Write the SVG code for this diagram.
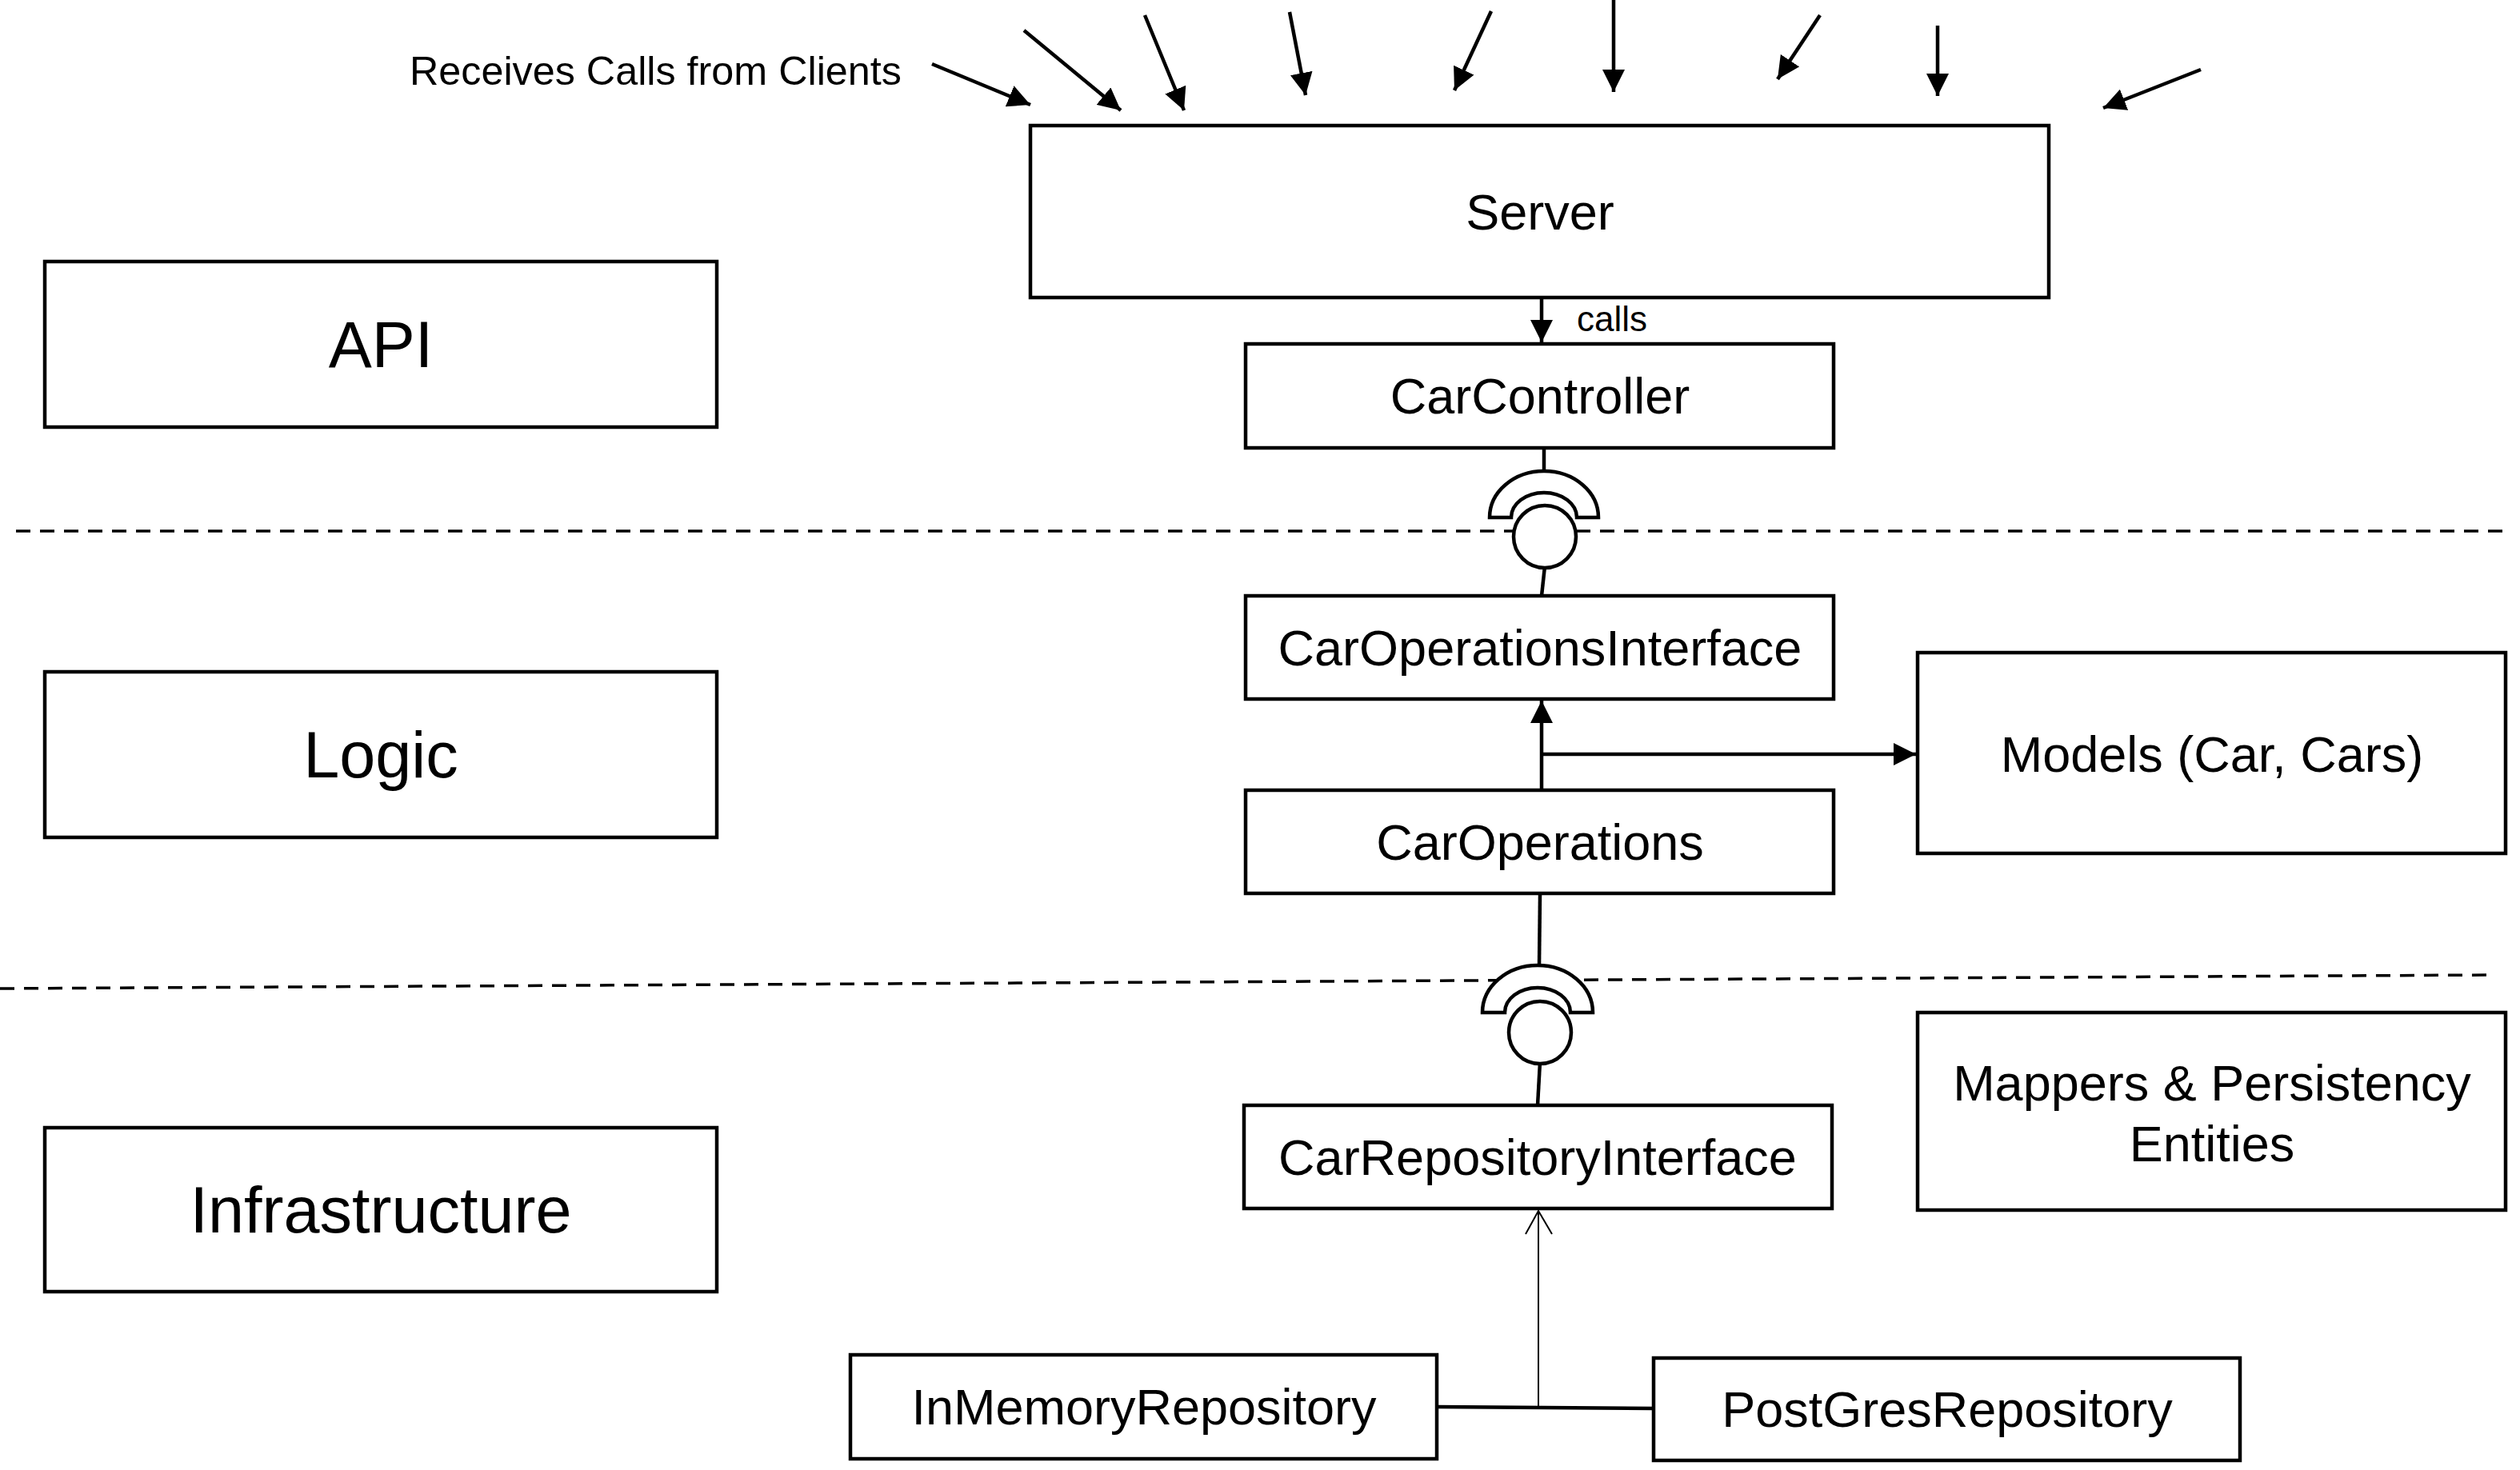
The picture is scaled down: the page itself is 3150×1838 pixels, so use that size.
<svg xmlns="http://www.w3.org/2000/svg" width="3150" height="1838" viewBox="0 0 3150 1838">
<style>
  .box { fill: #ffffff; stroke: #000000; stroke-width: 4.5; }
  .lbl { font-family: "Liberation Sans", Arial, sans-serif; font-size: 63px; fill: #000000; text-anchor: middle; }
  .layer { font-family: "Liberation Sans", Arial, sans-serif; font-size: 81px; fill: #000000; text-anchor: middle; }
  .small { font-family: "Liberation Sans", Arial, sans-serif; fill: #000000; }
  .ln { fill: none; stroke: #000000; stroke-width: 4.5; }
  .thin { fill: none; stroke: #000000; stroke-width: 2; }
  .dash { fill: none; stroke: #000000; stroke-width: 3.5; stroke-dasharray: 18 12; }
  .sym { fill: #ffffff; stroke: #000000; stroke-width: 4.5; }
</style>
<defs>
  <marker id="arr" markerUnits="userSpaceOnUse" markerWidth="28" markerHeight="28" viewBox="0 0 27 27" refX="27" refY="13.5" orient="auto">
    <path d="M0,0 L27,13.5 L0,27 Z" fill="#000000"/>
  </marker>
</defs>
<rect x="0" y="0" width="3150" height="1838" fill="#ffffff"/>

<g id="layer-lines">
  <line class="dash" x1="20" y1="664" x2="3134" y2="664"/>
  <line class="dash" x1="0" y1="1236" x2="3116" y2="1219"/>
</g>

<g id="client-calls">
  <text class="small" x="512" y="106" font-size="50.3">Receives Calls from Clients</text>
  <line class="ln" x1="1165" y1="80" x2="1288" y2="131" marker-end="url(#arr)"/>
  <line class="ln" x1="1280" y1="38" x2="1401" y2="138" marker-end="url(#arr)"/>
  <line class="ln" x1="1431" y1="19" x2="1480" y2="138" marker-end="url(#arr)"/>
  <line class="ln" x1="1612" y1="15" x2="1632" y2="119" marker-end="url(#arr)"/>
  <line class="ln" x1="1864" y1="14" x2="1818" y2="113" marker-end="url(#arr)"/>
  <line class="ln" x1="2017" y1="0" x2="2017" y2="115" marker-end="url(#arr)"/>
  <line class="ln" x1="2275" y1="19" x2="2222" y2="99" marker-end="url(#arr)"/>
  <line class="ln" x1="2422" y1="32" x2="2422" y2="120" marker-end="url(#arr)"/>
  <line class="ln" x1="2751" y1="87" x2="2629" y2="135" marker-end="url(#arr)"/>
</g>

<g id="connectors">
  <line class="ln" x1="1927" y1="374" x2="1927" y2="428" marker-end="url(#arr)"/>
  <text class="small" x="1971" y="414" font-size="44">calls</text>
  <line class="ln" x1="1930" y1="562" x2="1930" y2="590"/>
  <line class="ln" x1="1931" y1="708" x2="1927" y2="745"/>
  <line class="ln" x1="1927" y1="988" x2="1927" y2="876" marker-end="url(#arr)"/>
  <line class="ln" x1="1927" y1="943" x2="2395" y2="943" marker-end="url(#arr)"/>
  <line class="ln" x1="1925" y1="1119" x2="1924" y2="1208"/>
  <line class="ln" x1="1925" y1="1328" x2="1922" y2="1382"/>
  <line class="thin" x1="1923" y1="1760" x2="1923" y2="1514"/>
  <polyline class="thin" points="1907,1543 1923,1514 1940,1543"/>
  <line class="ln" x1="1796" y1="1759" x2="2067" y2="1761"/>
</g>

<g id="socket-api-logic">
  <path class="sym" d="M1862,647 A68,58 0 0 1 1998,647 L1971,647 A41,31 0 0 0 1889,647 Z"/>
  <circle class="sym" cx="1931" cy="671" r="39"/>
</g>
<g id="socket-logic-infra">
  <path class="sym" d="M1853,1266 A69,59 0 0 1 1991,1266 L1963,1266 A41,31 0 0 0 1881,1266 Z"/>
  <circle class="sym" cx="1925" cy="1291" r="39"/>
</g>

<g id="server">
  <rect class="box" x="1288" y="157" width="1273" height="215"/>
  <text class="lbl" x="1925" y="287">Server</text>
</g>
<g id="api">
  <rect class="box" x="56" y="327" width="840" height="207"/>
  <text class="layer" x="476" y="459">API</text>
</g>
<g id="car-controller">
  <rect class="box" x="1557" y="430" width="735" height="130"/>
  <text class="lbl" x="1925" y="517">CarController</text>
</g>
<g id="logic">
  <rect class="box" x="56" y="840" width="840" height="207"/>
  <text class="layer" x="476" y="972">Logic</text>
</g>
<g id="car-operations-interface">
  <rect class="box" x="1557" y="745" width="735" height="129"/>
  <text class="lbl" x="1925" y="832">CarOperationsInterface</text>
</g>
<g id="models">
  <rect class="box" x="2397" y="816" width="735" height="251"/>
  <text class="lbl" x="2765" y="965">Models (Car, Cars)</text>
</g>
<g id="car-operations">
  <rect class="box" x="1557" y="988" width="735" height="129"/>
  <text class="lbl" x="1925" y="1075">CarOperations</text>
</g>
<g id="infrastructure">
  <rect class="box" x="56" y="1410" width="840" height="205"/>
  <text class="layer" x="476" y="1541">Infrastructure</text>
</g>
<g id="car-repository-interface">
  <rect class="box" x="1555" y="1382" width="735" height="129"/>
  <text class="lbl" x="1922" y="1469">CarRepositoryInterface</text>
</g>
<g id="mappers">
  <rect class="box" x="2397" y="1266" width="735" height="247"/>
  <text class="lbl" x="2765" y="1376">Mappers &amp; Persistency</text>
  <text class="lbl" x="2765" y="1452">Entities</text>
</g>
<g id="in-memory-repository">
  <rect class="box" x="1063" y="1694" width="733" height="130"/>
  <text class="lbl" x="1430" y="1781">InMemoryRepository</text>
</g>
<g id="postgres-repository">
  <rect class="box" x="2067" y="1698" width="733" height="128"/>
  <text class="lbl" x="2434" y="1784">PostGresRepository</text>
</g>
</svg>
